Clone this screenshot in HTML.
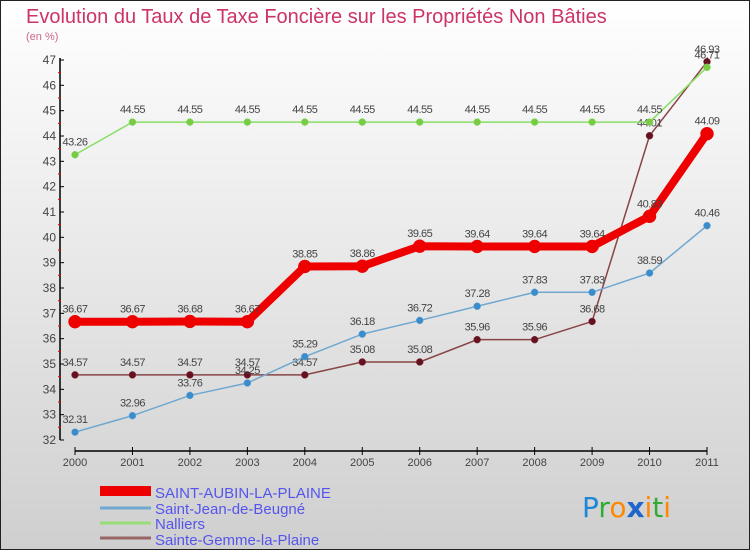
<!DOCTYPE html>
<html><head><meta charset="utf-8"><style>
body{margin:0;width:750px;height:550px;overflow:hidden;font-family:"Liberation Sans",sans-serif}
svg{display:block}
</style></head><body>
<svg id="c" width="750" height="550">
<defs><linearGradient id="bg" x1="0" y1="0" x2="0" y2="1"><stop offset="0" stop-color="#ffffff"/><stop offset="1" stop-color="#cfcfcf"/></linearGradient></defs>
<rect x="0.5" y="0.5" width="749" height="549" fill="url(#bg)" stroke="#222"/>
<text x="26" y="23" font-size="20" fill="#cc3366">Evolution du Taux de Taxe Foncière sur les Propriétés Non Bâties</text>
<text x="26" y="40" font-size="11" fill="#cc6688">(en %)</text>
<g id="axes"></g><g id="series"></g>
<g>
<rect x="100" y="486" width="51" height="10" fill="#ee0000"/>
<text x="155" y="498" font-size="15" fill="#5555ee">SAINT-AUBIN-LA-PLAINE</text>
<line x1="100" y1="508" x2="151" y2="508" stroke="#6fa8d0" stroke-width="3"/>
<text x="155" y="514" font-size="15" fill="#5555ee">Saint-Jean-de-Beugné</text>
<line x1="100" y1="523" x2="151" y2="523" stroke="#99dd77" stroke-width="3"/>
<text x="155" y="529" font-size="15" fill="#5555ee">Nalliers</text>
<line x1="100" y1="538" x2="151" y2="538" stroke="#996666" stroke-width="3"/>
<text x="155" y="545" font-size="15" fill="#5555ee">Sainte-Gemme-la-Plaine</text>
</g>
<g font-size="28" font-family="DejaVu Sans, sans-serif">
<text x="582" y="517"><tspan fill="#1e88d8">P</tspan><tspan fill="#33aa33">r</tspan><tspan fill="#ff8800">o</tspan><tspan fill="#1e66cc" font-weight="bold">x</tspan><tspan fill="#ff8800">i</tspan><tspan fill="#33aa33">t</tspan><tspan fill="#ff8800">i</tspan></text>
</g>
</svg>
<script>
const years=[2000,2001,2002,2003,2004,2005,2006,2007,2008,2009,2010,2011];
const yTicks=[32,33,34,35,36,37,38,39,40,41,42,43,44,45,46,47];
const saintAubin=[36.67,36.67,36.68,36.67,38.85,38.86,39.65,39.64,39.64,39.64,40.83,44.09];
const saintJean=[32.31,32.96,33.76,34.25,35.29,36.18,36.72,37.28,37.83,37.83,38.59,40.46];
const nalliers=[43.26,44.55,44.55,44.55,44.55,44.55,44.55,44.55,44.55,44.55,44.55,46.71];
const sainteGemme=[34.57,34.57,34.57,34.57,34.57,35.08,35.08,35.96,35.96,36.68,44.01,46.93];
const NS='http://www.w3.org/2000/svg';
const xS=i=>75+i*(707-75)/11;
const yS=v=>440-(v-32)*(440-60)/15;
function mk(t,a,p){const e=document.createElementNS(NS,t);for(const k in a)e.setAttribute(k,a[k]);p.appendChild(e);return e;}
const ax=document.getElementById('axes');
let e=mk('line',{x1:60,y1:yS(47)-2,x2:60,y2:yS(32),stroke:'#000','stroke-width':1.5},ax);


yTicks.forEach(v=>{mk('line',{x1:60,y1:yS(v),x2:64,y2:yS(v),stroke:'#000'},ax);
 if(v<47)mk('line',{x1:58,y1:yS(v+0.5),x2:61,y2:yS(v+0.5),stroke:'#e00'},ax);
 const t=mk('text',{x:56,y:yS(v)+4,'font-size':12,fill:'#444','text-anchor':'end'},ax);t.textContent=v;
 
 });
e=mk('line',{x1:75,y1:451,x2:707,y2:451,stroke:'#000','stroke-width':1.5},ax);


years.forEach((y,i)=>{mk('line',{x1:xS(i),y1:447,x2:xS(i),y2:455,stroke:'#000'},ax);
 const t=mk('text',{x:xS(i),y:466,'font-size':11,fill:'#444','text-anchor':'middle'},ax);t.textContent=y;
 
 });
const sg=document.getElementById('series');
function series(vals,name,col,dot,w,r){
 const g=mk('g',{},sg);
 
 
 mk('polyline',{points:vals.map((v,i)=>xS(i)+','+yS(v)).join(' '),fill:'none',stroke:col,'stroke-width':w},g);
 vals.forEach((v,i)=>{const c=mk('circle',{cx:xS(i),cy:yS(v),r:r,fill:dot,stroke:col,'stroke-width':0.5},g);
  
  
  const t=mk('text',{x:xS(i),y:yS(v)-9,'font-size':11,fill:'#444','text-anchor':'middle','letter-spacing':'-0.5'},g);
  t.textContent=String(v);
  
  });
}
series(sainteGemme,'series-sainte-gemme','#884444','#661122',1.5,3.5);
series(nalliers,'series-nalliers','#88dd66','#77cc44',1.5,3.5);
series(saintJean,'series-saint-jean','#6fa8d0','#3b8ccc',1.5,3.5);
series(saintAubin,'series-saint-aubin','#ee0000','#ee0000',8,6.5);
</script>
</body></html>
